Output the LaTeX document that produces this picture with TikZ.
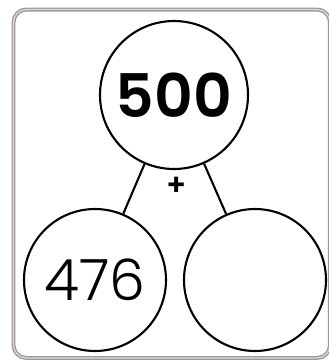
\documentclass[tikz,border=0pt]{standalone}
\usepackage{fontspec}
\newfontfamily\numfont{Poppins Light}[BoldFont={Poppins SemiBold}]
\definecolor{framegray}{RGB}{160,150,150}
\definecolor{framelight}{RGB}{225,220,220}

\begin{document}
\begin{tikzpicture}[x=1pt,y=-1pt,
	bubble/.style={circle, draw, line width=2.1pt, minimum size=142pt, inner sep=0pt},
	frame/.style={draw=framegray, double=framelight, double distance=1.2pt, line width=1.4pt, rounded corners=13pt}]
			\useasboundingbox (0,0) rectangle (329,360);
			% Frame
			\draw[frame] (13.5,9.5) rectangle (330,358);
			% Circles
			\node[bubble, minimum size=148pt] (whole) at (174,95) {\numfont\fontsize{60}{60}\selectfont\bfseries 500};
			\node[bubble] (partA) at (95,280) {\numfont\fontsize{57}{57}\selectfont 476};
			\node[bubble] (partB) at (255,280) {};
			% Branches
			\draw[line width=2.1pt] (whole) -- (partA);
			\draw[line width=2.1pt] (whole) -- (partB);
			% Sign
			\node (plus) at (177,186) {\numfont\fontsize{30}{30}\selectfont\bfseries +};
		\end{tikzpicture}
\end{document}
